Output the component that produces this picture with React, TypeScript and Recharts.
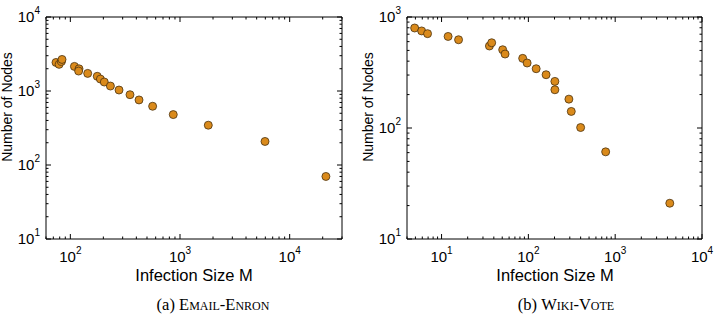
import React from "react";
import { ScatterChart, Scatter, XAxis, YAxis } from "recharts";

// Email-Enron: infection size M vs number of nodes
const enronSize = [74, 79, 83, 84, 109, 120, 119, 144, 176, 188, 204, 232, 278, 350, 423, 563, 868, 1811, 5957, 21400];
const enronNodes = [2430, 2290, 2510, 2670, 2150, 1995, 1860, 1730, 1580, 1450, 1322, 1167, 1031, 891, 757, 622, 480, 345, 208, 70];

// Wiki-Vote
const wikiSize = [4.9, 5.9, 6.9, 11.9, 15.7, 35.6, 37.8, 50.6, 53.9, 86, 96.8, 123, 160, 202, 202, 293, 312, 400, 777, 4256];
const wikiNodes = [796, 749, 708, 668, 624, 548, 586, 507, 464, 424, 385, 342, 302, 263, 221, 182, 141, 101, 61, 21];

const decades = [1, 10, 100, 1000, 10000, 100000];
const minorSteps = [1, 2, 3, 4, 5, 6, 7, 8, 9];

const FONT = "'Liberation Sans', Arial, sans-serif";
const DOT = "#DA8A1B";
const DOT_EDGE = "#4a3210";

const logTicks = (lo: number, hi: number) =>
  decades.flatMap((d) => minorSteps.map((m) => d * m)).filter((v) => v >= lo * 0.999 && v <= hi * 1.001);

const isMajor = (v: number) => Math.abs(Math.log10(v) - Math.round(Math.log10(v))) < 1e-9;

const Pow = ({ x, y, v, anchor }: { x: number; y: number; v: number; anchor: string }) => (
  <text x={x} y={y} textAnchor={anchor} fontFamily={FONT} fontSize={15} fill="#000">
    10
    <tspan fontSize={10} dy={-8}>{Math.round(Math.log10(v))}</tspan>
  </text>
);

const makeTick = (side: "bottom" | "top" | "left" | "right") => (props: any) => {
  const { x, y, payload } = props;
  const v = payload.value;
  const major = isMajor(v);
  const len = major ? 5 : 2.5;
  let line;
  if (side === "bottom") line = <line x1={x} x2={x} y1={y} y2={y - len} stroke="#000" />;
  else if (side === "top") line = <line x1={x} x2={x} y1={y} y2={y + len} stroke="#000" />;
  else if (side === "left") line = <line x1={x} x2={x + len} y1={y} y2={y} stroke="#000" />;
  else line = <line x1={x} x2={x - len} y1={y} y2={y} stroke="#000" />;
  return (
    <g>
      {line}
      {major && side === "bottom" && <Pow x={x} y={y + 23} v={v} anchor="middle" />}
      {major && side === "left" && <Pow x={x - 6} y={y + 5} v={v} anchor="end" />}
    </g>
  );
};

const dot = (p: any) => (
  <circle cx={p.cx} cy={p.cy} r={4} fill={DOT} stroke={DOT_EDGE} strokeWidth={0.8} />
);

type PanelProps = {
  xs: number[];
  ys: number[];
  xDomain: [number, number];
  yDomain: [number, number];
  margin: { top: number; right: number; bottom: number; left: number };
};

const Panel = ({ xs, ys, xDomain, yDomain, margin }: PanelProps) => {
  const data = xs.map((m, i) => ({ m, n: ys[i] }));
  const xt = logTicks(xDomain[0], xDomain[1]);
  const yt = logTicks(yDomain[0], yDomain[1]);
  const axisLine = { stroke: "#000", strokeWidth: 1 };
  return (
    <ScatterChart width={357} height={315} margin={margin}>
      <XAxis xAxisId="b" dataKey="m" type="number" scale="log" domain={xDomain} allowDataOverflow
        ticks={xt} interval={0} height={1} tickSize={0} tickMargin={0} tickLine={false}
        axisLine={axisLine} tick={makeTick("bottom")} />
      <XAxis xAxisId="t" orientation="top" dataKey="m" type="number" scale="log" domain={xDomain} allowDataOverflow
        ticks={xt} interval={0} height={1} tickSize={0} tickMargin={0} tickLine={false}
        axisLine={axisLine} tick={makeTick("top")} />
      <YAxis yAxisId="l" dataKey="n" type="number" scale="log" domain={yDomain} allowDataOverflow
        ticks={yt} interval={0} width={1} tickSize={0} tickMargin={0} tickLine={false}
        axisLine={axisLine} tick={makeTick("left")} />
      <YAxis yAxisId="r" orientation="right" dataKey="n" type="number" scale="log" domain={yDomain} allowDataOverflow
        ticks={yt} interval={0} width={1} tickSize={0} tickMargin={0} tickLine={false}
        axisLine={axisLine} tick={makeTick("right")} />
      <Scatter xAxisId="b" yAxisId="l" data={data} shape={dot} isAnimationActive={false} />
      <Scatter xAxisId="t" yAxisId="r" data={data} shape={() => <g />} isAnimationActive={false} />
    </ScatterChart>
  );
};

const Titles = ({ cx, yx }: { cx: number; yx: number }) => (
  <>
    <text x={cx} y={281} textAnchor="middle" fontFamily={FONT} fontSize={16.5}>Infection Size M</text>
    <text transform={`translate(${yx},107) rotate(-90)`} textAnchor="middle" fontFamily={FONT} fontSize={14}>
      Number of Nodes
    </text>
  </>
);

const Caption = ({ cx, tag, name }: { cx: number; tag: string; name: string }) => (
  <text x={cx} y={310} textAnchor="middle" fontFamily="'Liberation Serif', serif" fontSize={16.5}>
    {tag} <tspan style={{ fontVariant: "small-caps" }}>{name}</tspan>
  </text>
);

export default function App() {
  return (
    <div style={{ position: "absolute", left: 0, top: 0, width: 714, height: 315, background: "#fff" }}>
      <div style={{ position: "absolute", left: 0, top: 0 }}>
        <Panel xs={enronSize} ys={enronNodes} xDomain={[60, 30000]} yDomain={[10, 10000]}
          margin={{ top: 16, right: 14, bottom: 75, left: 45 }} />
      </div>
      <div style={{ position: "absolute", left: 357, top: 0 }}>
        <Panel xs={wikiSize} ys={wikiNodes} xDomain={[4, 10000]} yDomain={[10, 1000]}
          margin={{ top: 16, right: 11, bottom: 75, left: 49 }} />
      </div>
      <svg width={714} height={315} style={{ position: "absolute", left: 0, top: 0, pointerEvents: "none" }}>
        <Titles cx={194} yx={12} />
        <Titles cx={555} yx={373} />
        <Caption cx={213} tag="(a)" name="Email-Enron" />
        <Caption cx={566} tag="(b)" name="Wiki-Vote" />
      </svg>
    </div>
  );
}
